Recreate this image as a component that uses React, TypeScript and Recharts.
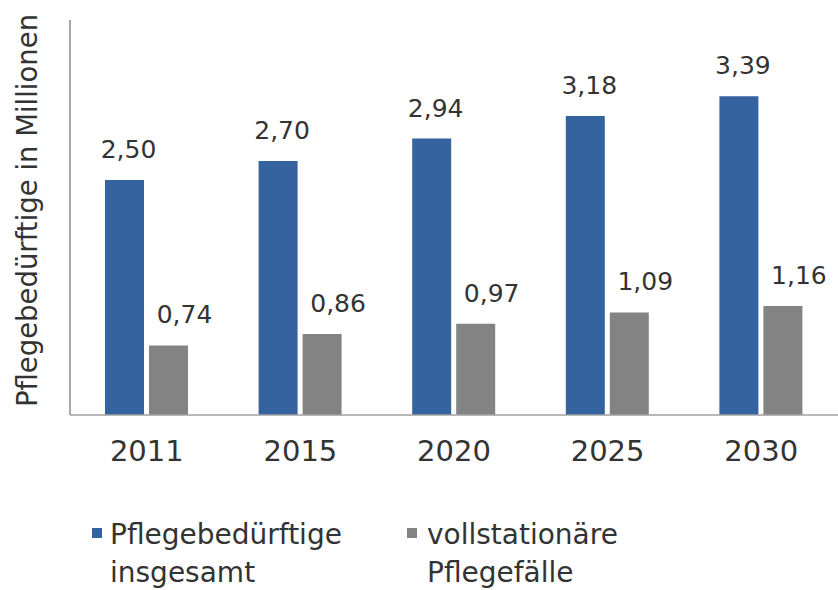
import { BarChart, Bar, XAxis, YAxis, Legend, LabelList } from 'recharts';

const years = ['2011', '2015', '2020', '2025', '2030'];
const insgesamt = [2.5, 2.7, 2.94, 3.18, 3.39];
const vollstationaer = [0.74, 0.86, 0.97, 1.09, 1.16];

const seriesNames = ['Pflegebedürftige insgesamt', 'vollstationäre Pflegefälle'];
const yLabel = 'Pflegebedürftige in Millionen';

const BLUE = '#34639f';
const GRAY = '#838383';
const FONT = '"DejaVu Sans", "Liberation Sans", Arial, sans-serif';

const data = years.map((year, i) => ({
  year,
  total: insgesamt[i],
  stationary: vollstationaer[i],
}));

const fmt = (v: any) => Number(v).toFixed(2).replace('.', ',');

function YAxisTitle({ viewBox }: any) {
  const cx = 27;
  const cy = viewBox.y + viewBox.height / 2 - 7;
  return (
    <text
      x={cx}
      y={cy}
      transform={`rotate(-90 ${cx} ${cy})`}
      textAnchor="middle"
      dominantBaseline="central"
      fontSize={27.5}
      fontFamily={FONT}
      fill="#333"
    >
      {yLabel}
    </text>
  );
}

const legendX = [{ box: 92, text: 110 }, { box: 407, text: 427 }];

function LegendContent({ payload }: any) {
  return (
    <div style={{ position: 'relative', width: 838, height: 76, fontFamily: FONT }}>
      {(payload || []).map((p: any, i: number) => (
        <div key={i}>
          <div
            style={{
              position: 'absolute',
              left: legendX[i].box,
              top: 12,
              width: 10,
              height: 10,
              background: p.color,
            }}
          />
          <div
            style={{
              position: 'absolute',
              left: legendX[i].text,
              top: 0,
              maxWidth: 280,
              fontSize: 28,
              lineHeight: '38px',
              color: '#333',
            }}
          >
            {p.value}
          </div>
        </div>
      ))}
    </div>
  );
}

export default function App() {
  return (
    <div style={{ position: 'absolute', left: 0, top: 0, background: '#fff' }}>
      <BarChart
        width={838}
        height={590}
        data={data}
        margin={{ top: 20, right: 0, bottom: 0, left: 0 }}
        barSize={39}
        barGap={5}
      >
        <XAxis
          dataKey="year"
          height={175}
          axisLine={{ stroke: '#a0a0a0', strokeWidth: 1.5 }}
          tickLine={false}
          tickSize={0}
          tickMargin={25}
          tick={{ fill: '#333', fontSize: 29, fontFamily: FONT }}
        />
        <YAxis
          width={70}
          domain={[0, 4.2]}
          tick={false}
          tickLine={false}
          axisLine={{ stroke: '#8c8c8c', strokeWidth: 1.5 }}
          label={<YAxisTitle />}
        />
        <Legend
          layout="horizontal"
          verticalAlign="middle"
          align="center"
          wrapperStyle={{ top: 516, left: 0, width: 838 }}
          content={<LegendContent />}
        />
        <Bar dataKey="total" name={seriesNames[0]} fill={BLUE} isAnimationActive={false}>
          <LabelList
            dataKey="total"
            position="top"
            offset={22}
            dx={4}
            formatter={fmt}
            fill="#333"
            fontSize={25}
            fontFamily={FONT}
          />
        </Bar>
        <Bar dataKey="stationary" name={seriesNames[1]} fill={GRAY} isAnimationActive={false}>
          <LabelList
            dataKey="stationary"
            position="top"
            offset={22}
            dx={16}
            formatter={fmt}
            fill="#333"
            fontSize={25}
            fontFamily={FONT}
          />
        </Bar>
      </BarChart>
    </div>
  );
}
